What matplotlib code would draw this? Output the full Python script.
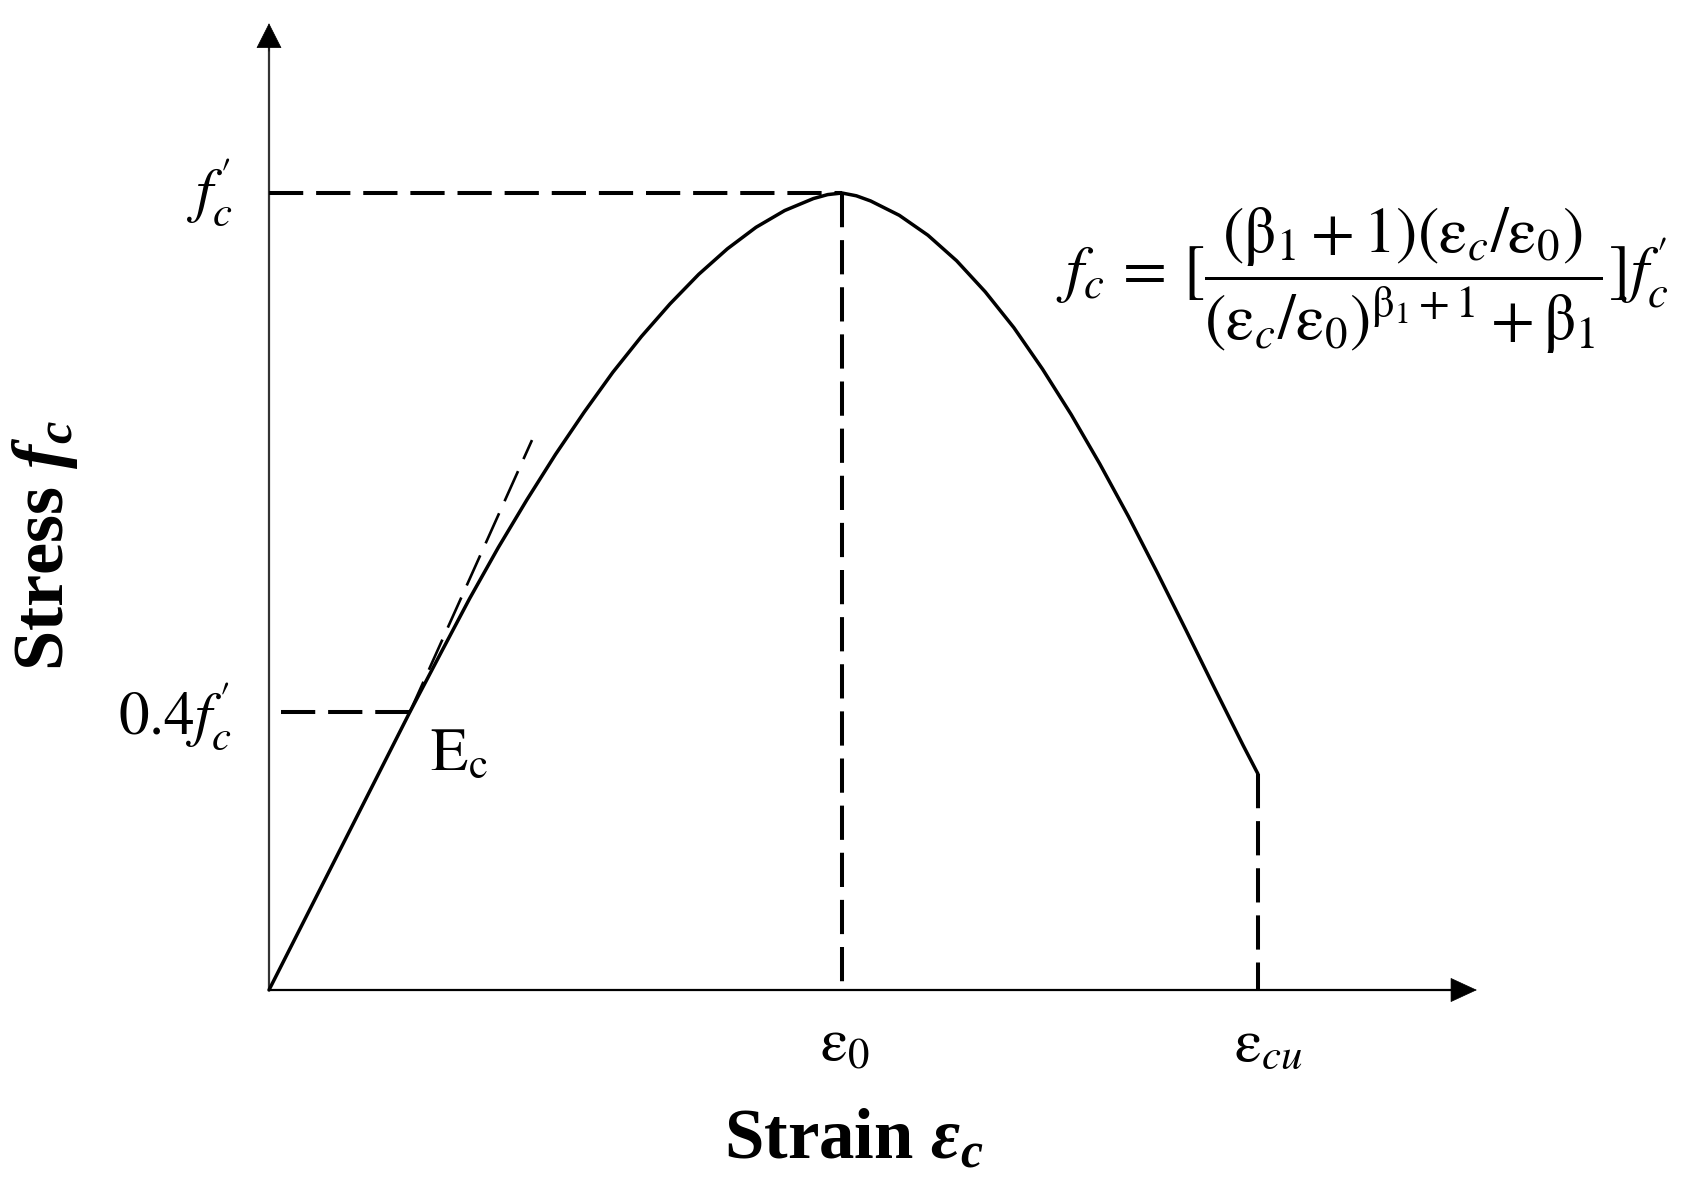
import matplotlib
matplotlib.use("Agg")
import matplotlib.pyplot as plt

# ---- data (normalised strain eps/eps0, stress f/f'c) ----
strain = [0.000, 0.246, 0.300, 0.350, 0.400, 0.450, 0.500, 0.550, 0.600, 0.650,
          0.700, 0.750, 0.800, 0.850, 0.900, 0.950, 0.975, 1.000,
          1.025, 1.050, 1.100, 1.150, 1.200, 1.250, 1.300, 1.350, 1.400,
          1.450, 1.500, 1.550, 1.600, 1.650, 1.700, 1.726]
stress = [0.000, 0.349, 0.423, 0.491, 0.555, 0.615, 0.672, 0.725, 0.775, 0.820,
          0.861, 0.898, 0.930, 0.957, 0.978, 0.993, 0.998, 1.000,
          0.9965, 0.990, 0.972, 0.947, 0.915, 0.876, 0.831, 0.779, 0.722,
          0.660, 0.594, 0.524, 0.452, 0.379, 0.307, 0.271]

eps0 = 1.0
eps_cu = 1.726
f_peak = 1.0
f_04 = 0.349
x_04 = 0.246
tangent_x = [0.246, 0.459]
tangent_y = [0.349, 0.690]
f_cu = 0.271

x_axis_end = 2.108
y_axis_end = 1.213

plt.rcParams['mathtext.fontset'] = 'stix'
plt.rcParams['mathtext.rm'] = 'Liberation Serif'
plt.rcParams['mathtext.it'] = 'Liberation Serif:italic'
plt.rcParams['mathtext.bf'] = 'Liberation Serif:bold'
plt.rcParams['mathtext.bfit'] = 'Liberation Serif:italic:bold'

fig = plt.figure(figsize=(17.08, 11.90), dpi=100)
ax = fig.add_axes([0, 0, 1, 1])
ax.set_xlim(-269 / 573, (1708 - 269) / 573)
ax.set_ylim((990 - 1190) / 797, 990 / 797)
ax.axis('off')

# axes with arrows
ax.plot([0, 0], [0, y_axis_end - 0.02], color='#333333', lw=1.6, solid_capstyle='butt')
ax.plot([0, x_axis_end - 0.03], [0, 0], color='black', lw=1.6, solid_capstyle='butt')
ax.annotate('', xy=(0, y_axis_end), xytext=(0, y_axis_end - 0.035),
            arrowprops=dict(arrowstyle='-|>,head_length=17,head_width=8.6',
                            mutation_scale=1, color='black', lw=0.5,
                            shrinkA=0, shrinkB=0))
ax.annotate('', xy=(x_axis_end, 0), xytext=(x_axis_end - 0.05, 0),
            arrowprops=dict(arrowstyle='-|>,head_length=18,head_width=8.3',
                            mutation_scale=1, color='black', lw=0.5,
                            shrinkA=0, shrinkB=0))

# curve
ax.plot(strain, stress, color='black', lw=2.5, solid_joinstyle='round',
        solid_capstyle='round')

dash = dict(color='black', lw=2.9, dashes=(8.5, 3.2))
ax.plot([0, eps0], [f_peak, f_peak], **dash)
ax.plot([eps0, eps0], [f_peak, 0], **dash)
ax.plot([0.021, x_04], [f_04, f_04], **dash)
ax.plot([eps_cu, eps_cu], [f_cu, 0], **dash)
ax.plot(tangent_x, tangent_y, color='black', lw=1.9, dashes=(12.5, 5.0))

# labels
fs = 44
ax.text(-0.062, 1.0, r"$f_c^{\prime}$", ha='right', va='center', fontsize=fs)
ax.text(-0.066, 0.343, r"$0.4f_c^{\prime}$", ha='right', va='center', fontsize=fs)
ax.text(0.281, 0.297, r"$\mathrm{E}_\mathrm{c}$", ha='left', va='center', fontsize=fs)
ax.text(1.005, -0.068, r"$\mathrm{\varepsilon}_0$", ha='center', va='center', fontsize=fs)
ax.text(1.745, -0.068, r"$\mathrm{\varepsilon}_{cu}$", ha='center', va='center', fontsize=fs)

ax.text(1.908, 0.89,
        r"$f_c\,=\,[\dfrac{(\mathrm{\beta}_1+1)(\mathrm{\varepsilon}_c/\mathrm{\varepsilon}_0)}"
        r"{(\mathrm{\varepsilon}_c/\mathrm{\varepsilon}_0)^{\mathrm{\beta}_1+1}+\mathrm{\beta}_1}] f_c^{\prime}$",
        ha='center', va='center', fontsize=46)

ax.text(1.021, -0.19, r"Strain $\mathbfit{\varepsilon}_{\mathbfit{c}}$",
        ha='center', va='center', fontsize=51, fontweight='bold',
        family='Liberation Serif', math_fontfamily='custom')
ax.text(-0.391, 0.558, r"Stress $\mathbfit{f}_{\mathbfit{c}}$",
        ha='center', va='center', fontsize=52, fontweight='bold', rotation=90,
        family='Liberation Serif', math_fontfamily='custom')

fig.savefig('out.png', dpi=100)
